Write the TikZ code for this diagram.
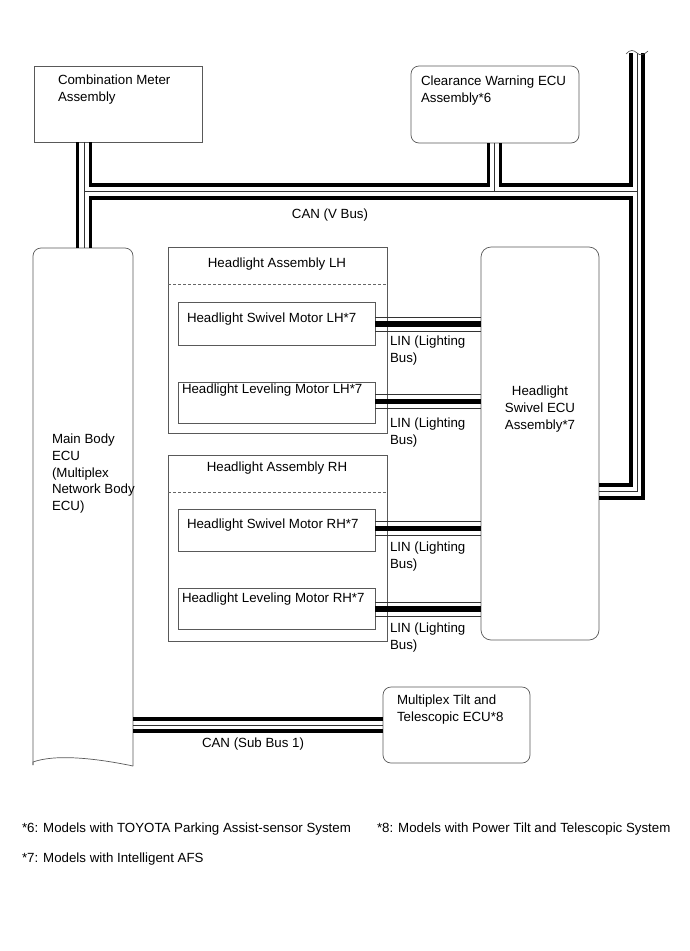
\documentclass[tikz,border=0pt]{standalone}
\usepackage{fontspec}
\setmainfont{Liberation Sans}
\usetikzlibrary{calc}
\newcommand{\linbus}[2]{%
  \draw[linthick] (#1.east |- #2) -- (hlsw.west |- #2);
  \draw[thinbus] ($(#1.east |- #2)+(0,-7)$) -- ($(hlsw.west |- #2)+(0,-7)$);
  \draw[thinbus] ($(#1.east |- #2)+(0,7)$) -- ($(hlsw.west |- #2)+(0,7)$);}
\begin{document}
\begin{tikzpicture}[x=1pt,y=-1pt,
  box/.style={draw=black!65, line width=0.7pt, fill=white, inner sep=0pt, outer sep=0pt, anchor=north west},
  rbox/.style={box, rounded corners=8pt},
  txt/.style={inner sep=0pt, outer sep=0pt, anchor=north west, align=left, font=\fontsize{13.3}{16.7}\selectfont},
  ctxt/.style={txt, anchor=north, align=center},
  thickbus/.style={line width=3.6pt, line join=miter, line cap=butt},
  thinbus/.style={line width=0.8pt, draw=black!80},
  linthick/.style={line width=5.5pt},
  ]
\useasboundingbox[fill=white] (0,0) rectangle (690,951);

% boxes
\node[box, minimum width=168pt, minimum height=76pt] (meter) at (34,66) {};
\node[rbox, minimum width=168pt, minimum height=77pt] (clear) at (411,66) {};
\node[box, rounded corners=10pt, minimum width=118pt, minimum height=393pt] (hlsw) at (481,247) {};
\node[rbox, minimum width=147pt, minimum height=76pt] (multi) at (383,687) {};
\node[box, minimum width=219pt, minimum height=186pt] (asmLH) at (168,247) {};
\node[box, minimum width=219pt, minimum height=186pt] (asmRH) at (168,455) {};
\node[box, minimum width=197pt, minimum height=43pt] (swLH) at (178,302) {};
\node[box, minimum width=197pt, minimum height=41pt] (lvLH) at (178,382) {};
\node[box, minimum width=197pt, minimum height=42pt] (swRH) at (178,509) {};
\node[box, minimum width=197pt, minimum height=41pt] (lvRH) at (178,588) {};
\node[inner sep=0pt, outer sep=0pt, anchor=north west, minimum width=100pt, minimum height=517pt] (mbecu) at (33,248) {};
\draw[draw=black!65, line width=0.7pt, rounded corners=8pt] (mbecu.south west) -- (mbecu.north west) -- (mbecu.north east) -- (133,766);
\draw[draw=black!65, line width=0.7pt] (133,766) .. controls (95,758) and (55,754) .. (33,762) -- (mbecu.south west);

% dashed separators
\draw[draw=black!60, line width=0.6pt, dash pattern=on 3pt off 2pt] (asmLH.west |- 0,284) -- (asmLH.east |- 0,284);
\draw[draw=black!60, line width=0.6pt, dash pattern=on 3pt off 2pt] (asmRH.west |- 0,492) -- (asmRH.east |- 0,492);

% bus coordinates
\coordinate (vL) at (77.5,0); \coordinate (vM) at (84,0); \coordinate (vR) at (90.5,0);
\coordinate (cL) at (488.5,0); \coordinate (cM) at (494.5,0); \coordinate (cR) at (500.5,0);
\coordinate (rL) at (631,0); \coordinate (rM) at (637,0); \coordinate (rR) at (643,0);
\coordinate (hU) at (0,185); \coordinate (hM) at (0,191.5); \coordinate (hLo) at (0,198);
\coordinate (kU) at (0,485); \coordinate (kM) at (0,491.5); \coordinate (kLo) at (0,498);
\coordinate (rtop) at (637,53);
\coordinate (sU) at (0,719); \coordinate (sM) at (0,725); \coordinate (sLo) at (0,731);

% CAN V bus
\draw[thickbus] (vL |- meter.south) -- (vL |- mbecu.north);
\draw[thickbus] (vR |- meter.south) -- (vR |- hU) -- (cL |- hU) -- (cL |- clear.south);
\draw[thickbus] (cR |- clear.south) -- (cR |- hU) -- (rL |- hU) -- (rL |- rtop);
\draw[thickbus] (vR |- mbecu.north) -- (vR |- hLo) -- (rL |- hLo) -- (rL |- kU) -- (hlsw.east |- kU);
\draw[thickbus] (rR |- rtop) -- (rR |- kLo) -- (hlsw.east |- kLo);
\draw[thinbus] (vM |- meter.south) -- (vM |- mbecu.north);
\draw[thinbus] (vM |- hM) -- (rM |- hM);
\draw[thinbus] (cM |- clear.south) -- (cM |- hM);
\draw[thinbus] (rM |- rtop) -- (rM |- kM) -- (hlsw.east |- kM);
\draw[draw=black!70, line width=0.6pt] (626,54) .. controls (630,49) and (634,50) .. (rtop) .. controls (640,56) and (644,55) .. (648,51);

% CAN sub bus 1
\draw[thickbus] (mbecu.east |- sU) -- (multi.west |- sU);
\draw[thinbus] (mbecu.east |- sM) -- (multi.west |- sM);
\draw[thickbus] (mbecu.east |- sLo) -- (multi.west |- sLo);

% LIN buses
\coordinate (l1) at (0,324); \coordinate (l2) at (0,401.5);
\coordinate (l3) at (0,528.5); \coordinate (l4) at (0,609);
\linbus{swLH}{l1}
\linbus{lvLH}{l2}
\linbus{swRH}{l3}
\linbus{lvRH}{l4}

% texts
\node[txt] (meter-t) at (58,75) {Combination Meter\\Assembly};
\node[txt] (clear-t) at (421,76) {Clearance Warning ECU\\Assembly*6};
\node[ctxt] (vbus-t) at (330,209) {CAN (V Bus)};
\node[txt] (mbecu-t) at (52,434) {Main Body\\ECU\\(Multiplex\\Network Body\\ECU)};
\node[ctxt] (hlsw-t) at (540,386) {Headlight\\Swivel ECU\\Assembly*7};
\node[ctxt] (asmLH-t) at (277,258) {Headlight Assembly LH};
\node[ctxt] (asmRH-t) at (277,462) {Headlight Assembly RH};
\node[txt] (swLH-t) at (187,313) {Headlight Swivel Motor LH*7};
\node[txt] (lvLH-t) at (182,384) {Headlight Leveling Motor LH*7};
\node[txt] (swRH-t) at (187,519) {Headlight Swivel Motor RH*7};
\node[txt] (lvRH-t) at (182,593) {Headlight Leveling Motor RH*7};
\node[txt] (lin1-t) at (390,336) {LIN (Lighting\\Bus)};
\node[txt] (lin2-t) at (390,418) {LIN (Lighting\\Bus)};
\node[txt] (lin3-t) at (390,542) {LIN (Lighting\\Bus)};
\node[txt] (lin4-t) at (390,623) {LIN (Lighting\\Bus)};
\node[txt] (multi-t) at (397,695) {Multiplex Tilt and\\Telescopic ECU*8};
\node[ctxt] (sub-t) at (253,738) {CAN (Sub Bus 1)};
\node[txt] (fn6) at (22,823) {*6: Models with TOYOTA Parking Assist-sensor System};
\node[txt] (fn8) at (377,823) {*8: Models with Power Tilt and Telescopic System};
\node[txt] (fn7) at (22,853) {*7: Models with Intelligent AFS};
\end{tikzpicture}
\end{document}
